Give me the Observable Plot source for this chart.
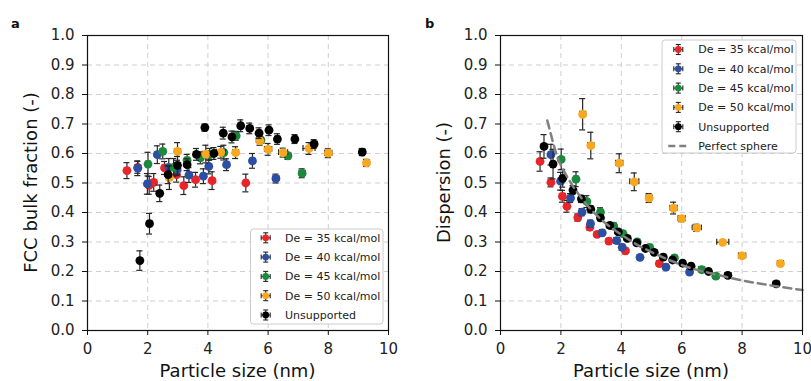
<!DOCTYPE html>
<html><head><meta charset="utf-8">
<script src="https://cdn.jsdelivr.net/npm/d3@7"></script>
<script src="https://cdn.jsdelivr.net/npm/@observablehq/plot@0.6"></script>
<style>
body{margin:0;background:#fff;}
#wrap{position:relative;width:811px;height:381px;display:flex;}
#wrap svg{display:block;}
</style></head><body><div id="wrap"></div>
<script>
// ---------- data ----------
const seriesNames = ["De = 35 kcal/mol","De = 40 kcal/mol","De = 45 kcal/mol","De = 50 kcal/mol","Unsupported"];
const seriesColors = ["#e8262a","#2c4fa3","#1b8a3c","#f7a81e","#000000"];

// particle size (nm)
const sizeDe35 = [1.31,1.67,2.05,2.20,2.56,2.96,3.20,3.59,4.14,5.26];
const sizeDe40 = [1.67,1.99,2.32,2.70,2.98,3.37,3.85,4.03,4.62,5.48,6.26];
const sizeDe45 = [2.01,2.50,2.86,3.31,3.75,4.06,4.53,4.94,5.76,6.66,7.13];
const sizeDe50 = [2.72,2.99,3.93,4.43,4.92,5.73,6.00,6.50,7.36,8.00,9.27];
const sizeUns  = [1.44,1.74,2.06,2.40,2.68,2.99,3.31,3.62,3.90,4.20,4.51,4.80,5.09,5.39,5.70,6.03,6.31,6.89,7.53,9.13];

// size error (nm)
const sizeErrDe35 = [0.08,0.08,0.08,0.08,0.08,0.08,0.08,0.08,0.08,0.08];
const sizeErrDe40 = [0.08,0.08,0.08,0.08,0.08,0.08,0.08,0.08,0.08,0.08,0.1];
const sizeErrDe45 = [0.08,0.08,0.08,0.08,0.08,0.08,0.08,0.08,0.08,0.1,0.1];
const sizeErrDe50 = [0.1,0.1,0.12,0.15,0.1,0.12,0.12,0.15,0.2,0.12,0.1];
const sizeErrUns  = [0.08,0.08,0.08,0.08,0.08,0.08,0.08,0.08,0.08,0.08,0.08,0.08,0.08,0.08,0.08,0.08,0.08,0.08,0.1,0.1];

// panel a: FCC bulk fraction
const fccDe35 = [0.542,0.553,0.492,0.502,0.551,0.528,0.491,0.511,0.508,0.500];
const fccDe40 = [0.550,0.497,0.596,0.553,0.545,0.527,0.523,0.556,0.562,0.575,0.515];
const fccDe45 = [0.564,0.607,0.553,0.577,0.585,0.597,0.603,0.660,0.645,0.592,0.533];
const fccDe50 = [0.518,0.607,0.598,0.604,0.603,0.643,0.614,0.603,0.617,0.601,0.568];
const fccUns  = [null,0.237,0.362,0.465,0.528,0.560,0.562,0.597,0.688,0.600,0.669,0.656,0.694,0.685,0.669,0.679,0.649,0.649,0.632,0.605];
const fccErrDe35 = [0.027,0.02,0.03,0.03,0.022,0.025,0.03,0.025,0.03,0.03];
const fccErrDe40 = [0.025,0.035,0.03,0.03,0.02,0.025,0.025,0.025,0.02,0.025,0.015];
const fccErrDe45 = [0.04,0.025,0.03,0.02,0.02,0.02,0.025,0.015,0.01,0.012,0.015];
const fccErrDe50 = [0.04,0.03,0.03,0.02,0.02,0.015,0.02,0.015,0.02,0.015,0.012];
const fccErrUns  = [null,0.033,0.035,0.028,0.03,0.03,0.02,0.02,0.012,0.02,0.02,0.02,0.02,0.018,0.018,0.018,0.018,0.015,0.015,0.012];

// panel b: dispersion
const dispDe35 = [0.573,0.502,0.455,0.421,0.383,0.350,0.326,0.303,0.270,0.227];
const dispDe40 = [0.596,0.506,0.449,0.401,0.362,0.331,0.305,0.282,0.248,0.215,0.198];
const dispDe45 = [0.580,0.513,0.437,0.401,0.354,0.328,0.300,0.282,0.246,0.206,0.184];
const dispDe50 = [0.733,0.627,0.567,0.504,0.449,0.415,0.379,0.348,0.299,0.253,0.227];
const dispUns  = [0.624,0.564,0.516,0.476,0.446,0.411,0.382,0.356,0.334,0.312,0.297,0.278,0.265,0.249,0.239,0.228,0.218,0.200,0.187,0.158];
const dispErrDe35 = [0.033,0.015,0.02,0.02,0.012,0.01,0.008,0.008,0.01,0.008];
const dispErrDe40 = [0.035,0.03,0.015,0.012,0.012,0.01,0.01,0.01,0.008,0.008,0.006];
const dispErrDe45 = [0.035,0.025,0.02,0.015,0.01,0.01,0.008,0.008,0.006,0.006,0.005];
const dispErrDe50 = [0.053,0.045,0.032,0.03,0.015,0.02,0.01,0.012,0.006,0.008,0.008];
const dispErrUns  = [0.04,0.05,0.03,0.015,0.012,0.012,0.01,0.008,0.006,0.006,0.006,0.006,0.006,0.006,0.006,0.006,0.006,0.006,0.006,0.006];

// perfect sphere reference curve
const sphereSize = [1.55,1.8,2.0,2.3,2.6,3.0,3.5,4.0,4.5,5.0,6.0,7.0,8.0,9.0,10.0];
const sphereDisp = [0.712,0.615,0.56,0.505,0.46,0.41,0.362,0.325,0.292,0.266,0.222,0.193,0.170,0.152,0.137];

const xTicks = [0,2,4,6,8,10];
const yTicks = [0,0.1,0.2,0.3,0.4,0.5,0.6,0.7,0.8,0.9,1.0];

// ---------- build ----------
const sizes = [sizeDe35,sizeDe40,sizeDe45,sizeDe50,sizeUns];
const sizeErrs = [sizeErrDe35,sizeErrDe40,sizeErrDe45,sizeErrDe50,sizeErrUns];
const fccVals = [fccDe35,fccDe40,fccDe45,fccDe50,fccUns];
const fccErrs = [fccErrDe35,fccErrDe40,fccErrDe45,fccErrDe50,fccErrUns];
const dispVals = [dispDe35,dispDe40,dispDe45,dispDe50,dispUns];
const dispErrs = [dispErrDe35,dispErrDe40,dispErrDe45,dispErrDe50,dispErrUns];

const FONT = "DejaVu Sans";
const ebColor = "#262626";

function seriesMarks(vals, errs) {
  const marks = [];
  for (let s = 0; s < seriesNames.length; s++) {
    const rows = sizes[s].map((x, i) => ({x, y: vals[s][i], e: errs[s][i], xe: sizeErrs[s][i]}))
      .filter(d => d.y != null);
    const capX = 0.1, capY = 0.01;
    marks.push(
      Plot.ruleX(rows, {x: "x", y1: d => d.y - d.e, y2: d => d.y + d.e, stroke: ebColor, strokeWidth: 1.2}),
      Plot.ruleY(rows, {y: d => d.y - d.e, x1: d => d.x - capX, x2: d => d.x + capX, stroke: ebColor, strokeWidth: 1.2}),
      Plot.ruleY(rows, {y: d => d.y + d.e, x1: d => d.x - capX, x2: d => d.x + capX, stroke: ebColor, strokeWidth: 1.2}),
      Plot.ruleY(rows, {y: "y", x1: d => d.x - d.xe, x2: d => d.x + d.xe, stroke: ebColor, strokeWidth: 1.2}),
      Plot.ruleX(rows, {x: d => d.x - d.xe, y1: d => d.y - capY, y2: d => d.y + capY, stroke: ebColor, strokeWidth: 1.2}),
      Plot.ruleX(rows, {x: d => d.x + d.xe, y1: d => d.y - capY, y2: d => d.y + capY, stroke: ebColor, strokeWidth: 1.2}),
      Plot.dot(rows, {x: "x", y: "y", r: 4.4, fill: seriesColors[s]})
    );
  }
  return marks;
}

function panel({width, marginLeft, marginRight, vals, errs, overlay}) {
  return Plot.plot({
    width, height: 381,
    marginLeft, marginRight, marginTop: 35, marginBottom: 51,
    style: {fontFamily: FONT, fontSize: "15px", color: "#222", background: "white", overflow: "visible"},
    x: {domain: [0, 10]},
    y: {domain: [0, 1]},
    marks: [
      Plot.gridX({ticks: [2,4,6,8], stroke: "#cfcfcf", strokeOpacity: 1, strokeDasharray: "5,4", strokeWidth: 1}),
      Plot.gridY({ticks: yTicks.slice(1, -1), stroke: "#cfcfcf", strokeOpacity: 1, strokeDasharray: "5,4", strokeWidth: 1}),
      ...seriesMarks(vals, errs),
      ...(overlay || []),
      Plot.axisX({ticks: xTicks, tickFormat: d3.format("d"), tickSize: 5, tickPadding: 8, label: null, stroke: "#111"}),
      Plot.axisY({ticks: yTicks, tickFormat: d3.format(".1f"), tickSize: 5, tickPadding: 8, label: null, stroke: "#111"}),
      Plot.frame({stroke: "#111", strokeWidth: 1.2})
    ]
  });
}

function addLabels(svg, {letter, letterX, yLabel, yLabelX, frameLeft, frameRight}) {
  const g = d3.select(svg);
  g.append("text").attr("x", letterX).attr("y", 28).attr("text-anchor", "start").attr("font-family", FONT)
    .attr("font-weight", "bold").attr("font-size", 13).attr("fill", "#111").text(letter);
  g.append("text").attr("x", (frameLeft + frameRight) / 2).attr("y", 377).attr("text-anchor", "middle")
    .attr("font-family", FONT).attr("font-size", 18).attr("fill", "#111").text("Particle size (nm)");
  g.append("text").attr("transform", `translate(${yLabelX},182.5) rotate(-90)`).attr("text-anchor", "middle")
    .attr("font-family", FONT).attr("font-size", 18).attr("fill", "#111").text(yLabel);
}

function addLegend(svg, {x0, y0, w, h, rowY0, markerX, textX, withSphere}) {
  const g = d3.select(svg).append("g").attr("text-anchor", "start");
  g.append("rect").attr("x", x0).attr("y", y0).attr("width", w).attr("height", h).attr("rx", 3)
    .attr("fill", "white").attr("fill-opacity", 0.85).attr("stroke", "#cccccc").attr("stroke-width", 1);
  const step = 19.3;
  seriesNames.forEach((name, i) => {
    const cy = rowY0 + i * step;
    const m = g.append("g").attr("stroke", ebColor).attr("stroke-width", 1.1);
    m.append("line").attr("x1", markerX).attr("x2", markerX).attr("y1", cy - 5).attr("y2", cy + 5);
    m.append("line").attr("x1", markerX - 2.5).attr("x2", markerX + 2.5).attr("y1", cy - 5).attr("y2", cy - 5);
    m.append("line").attr("x1", markerX - 2.5).attr("x2", markerX + 2.5).attr("y1", cy + 5).attr("y2", cy + 5);
    m.append("line").attr("x1", markerX - 4.5).attr("x2", markerX + 4.5).attr("y1", cy).attr("y2", cy);
    m.append("line").attr("x1", markerX - 4.5).attr("x2", markerX - 4.5).attr("y1", cy - 2.5).attr("y2", cy + 2.5);
    m.append("line").attr("x1", markerX + 4.5).attr("x2", markerX + 4.5).attr("y1", cy - 2.5).attr("y2", cy + 2.5);
    g.append("circle").attr("cx", markerX).attr("cy", cy).attr("r", 3.4).attr("fill", seriesColors[i]);
    g.append("text").attr("x", textX).attr("y", cy).attr("dy", "0.35em").attr("text-anchor", "start")
      .attr("font-family", FONT).attr("font-size", 11).attr("fill", "#222").text(name);
  });
  if (withSphere) {
    const cy = rowY0 + 5 * step;
    g.append("line").attr("x1", markerX - 10).attr("x2", markerX + 10).attr("y1", cy).attr("y2", cy)
      .attr("stroke", "#808080").attr("stroke-width", 2.5).attr("stroke-dasharray", "7,4");
    g.append("text").attr("x", textX).attr("y", cy).attr("dy", "0.35em").attr("text-anchor", "start")
      .attr("font-family", FONT).attr("font-size", 11).attr("fill", "#222").text("Perfect sphere");
  }
}

const wrap = document.getElementById("wrap");

// panel a
const svgA = panel({width: 406, marginLeft: 87, marginRight: 18, vals: fccVals, errs: fccErrs});
addLabels(svgA, {letter: "a", letterX: 11, yLabel: "FCC bulk fraction (-)", yLabelX: 37, frameLeft: 87, frameRight: 388});
addLegend(svgA, {x0: 250.5, y0: 229, w: 132.5, h: 95, rowY0: 237.8, markerX: 265.7, textX: 285, withSphere: false});
wrap.appendChild(svgA);

// panel b
const sphere = sphereSize.map((x, i) => ({x, y: sphereDisp[i]}));
const svgB = panel({width: 405, marginLeft: 94, marginRight: 9, vals: dispVals, errs: dispErrs,
  overlay: [Plot.line(sphere, {x: "x", y: "y", stroke: "#808080", strokeWidth: 2.5, strokeDasharray: "8,5", curve: "natural"})]});
addLabels(svgB, {letter: "b", letterX: 19, yLabel: "Dispersion (-)", yLabelX: 44, frameLeft: 94, frameRight: 396});
addLegend(svgB, {x0: 256, y0: 40, w: 134, h: 113, rowY0: 49.5, markerX: 272.3, textX: 292.3, withSphere: true});
wrap.appendChild(svgB);
</script>
</body></html>
